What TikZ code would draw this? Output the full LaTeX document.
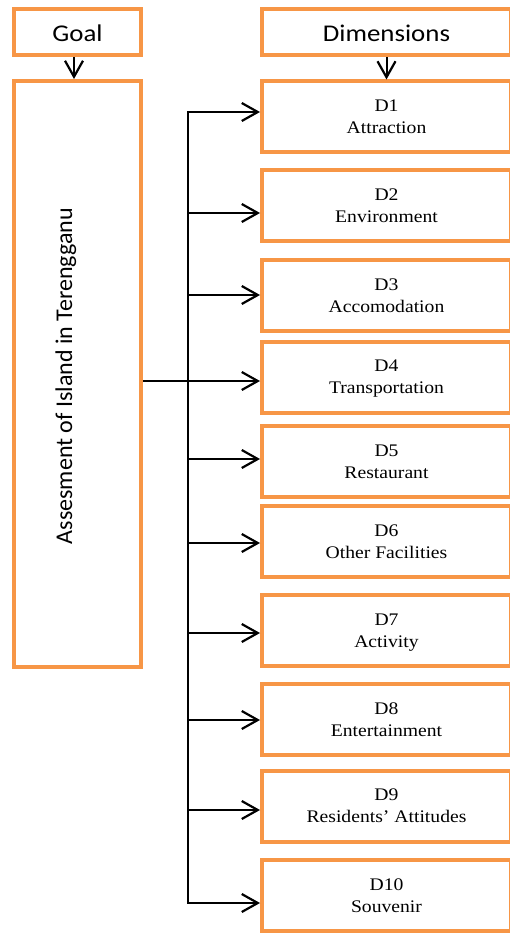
\documentclass[tikz,border=0pt]{standalone}
\usepackage{fontspec}
\setmainfont{Liberation Serif}
\newfontfamily\sansf[FakeStretch=1.12]{Carlito}
\newfontfamily\sansr{Carlito}
\newfontfamily\serf[FakeStretch=1.11]{Liberation Serif}
\usetikzlibrary{arrows.meta,calc}
\definecolor{boxorange}{HTML}{F79646}
\begin{document}
\begin{tikzpicture}[x=1pt,y=-1pt,
  obox/.style={draw=boxorange,line width=4pt,inner sep=0pt},
  dbox/.style={obox,minimum width=249pt,minimum height=71pt,
    font=\serf\fontsize{17.7}{22}\selectfont,align=center,text depth=0pt},
  headtext/.style={anchor=base,font=\sansf\fontsize{24}{28}\selectfont,inner sep=0pt},
  conn/.style={line width=2pt,-{Straight Barb[length=16pt,width=18pt,line width=2.2pt]}},
  spine/.style={line width=2pt,line cap=rect}
]
\useasboundingbox (0,0) rectangle (510,933);

\node[obox,minimum width=127pt,minimum height=46pt] (goal) at (77.5,32) {};
\node[headtext] (goalt) at (77.5,42) {Goal};
\node[obox,minimum width=127pt,minimum height=586pt] (assess) at (77.5,374) {};
\node[rotate=90,anchor=base,inner sep=0pt,font=\sansr\fontsize{24}{28}\selectfont] (assesst) at (72,376) {Assesment of Island in Terengganu};
\node[obox,minimum width=249pt,minimum height=46pt] (dims) at (386.5,32) {};
\node[headtext] (dimst) at (386.5,42) {Dimensions};

\foreach \i/\cy/\ay/\txt in {1/117/112/Attraction,2/205.5/213/Environment,3/295.5/295/Accomodation,4/377/381/Transportation,5/461.5/459/Restaurant,6/541.5/543/Other Facilities,7/630.5/633/Activity,8/719.5/720/Entertainment,9/806/810/Residents’ Attitudes,10/895.5/903/Souvenir}{
  \node[dbox] (d\i) at (386.5,\cy) {D\i\\\txt};
  \coordinate (s\i) at (188,\ay);
}

\draw[conn] ($(goal.south)+(-3.5,0)$) -- ($(assess.north)+(-3.5,0)$);
\draw[conn] (dims.south) -- (d1.north);

\draw[spine] (s1) -- (s10);
\foreach \i in {1,2,3,5,6,7,8,9,10}{
  \draw[conn] (s\i) -- (s\i -| d\i.west);
}
\draw[conn] (s4 -| assess.east) -- (s4 -| d4.west);
\end{tikzpicture}
\end{document}
